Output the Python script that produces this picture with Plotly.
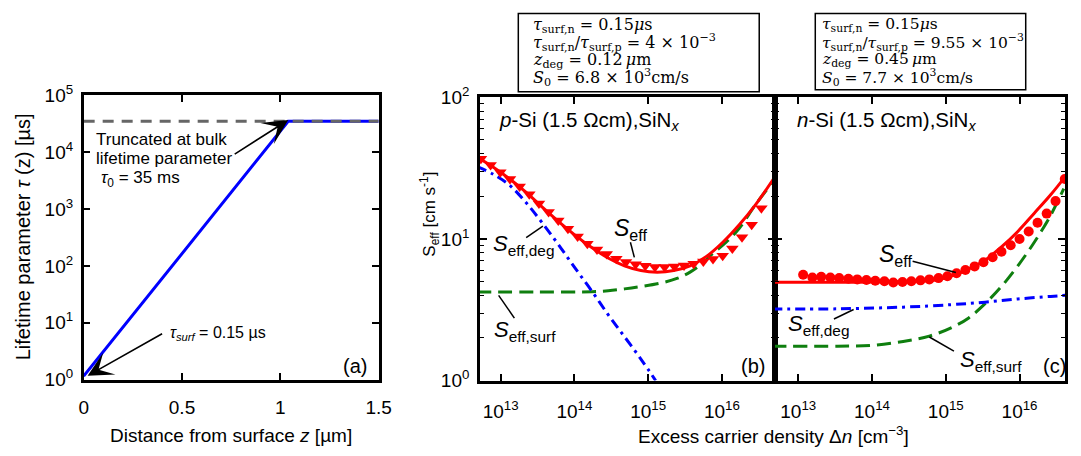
import plotly.graph_objects as go

W, H = 1081, 456

# ---------------- data: panel (a) ----------------
z_um = [0.0, 1.04, 1.5]
tau_us = [1.15, 35000, 35000]
trunc_z = [0.0, 1.5]
trunc_tau = [35000, 35000]

# ---------------- data: panel (b), p-Si ----------------
log_dn_b_meas = [12.733, 12.864, 12.996, 13.127, 13.258, 13.389, 13.52, 13.651, 13.782, 13.913,
                 14.044, 14.176, 14.307, 14.438, 14.569, 14.70, 14.831, 14.962, 15.093, 15.224,
                 15.356, 15.487, 15.618, 15.749, 15.88, 16.011, 16.142, 16.273, 16.404, 16.536]
S_b_meas = [36.9, 33.3, 29.6, 26.5, 23.5, 20.7, 17.8, 15.5, 13.5, 11.8,
            10.4, 9.25, 8.43, 7.82, 7.26, 6.87, 6.62, 6.46, 6.35, 6.35,
            6.40, 6.49, 6.67, 6.93, 7.23, 7.62, 8.57, 10.3, 12.6, 16.5]
log_dn_b_fit = [12.68, 12.902, 13.124, 13.347, 13.569, 13.791, 14.013, 14.236, 14.458, 14.68,
                14.902, 15.124, 15.347, 15.569, 15.791, 16.013, 16.236, 16.458, 16.72]
S_b_fit = [37.9, 32.1, 26.5, 21.3, 16.7, 13.2, 10.6, 8.69, 7.34, 6.46,
           5.98, 5.83, 5.98, 6.46, 7.53, 9.48, 12.6, 17.5, 27.5]
log_dn_b_surf = [12.68, 13.5, 14.236, 14.458, 14.68, 14.902, 15.169, 15.391, 15.569, 15.747,
                 15.88, 16.058, 16.236, 16.458, 16.72]
S_b_surf = [4.22, 4.22, 4.24, 4.31, 4.44, 4.61, 4.88, 5.26, 5.83, 6.80,
            7.93, 9.48, 11.9, 17.5, 26.5]
log_dn_b_deg = [12.68, 12.902, 13.124, 13.347, 13.569, 13.791, 14.013, 14.236, 14.458, 14.68,
                14.902, 15.102]
S_b_deg = [32.5, 28.6, 23.9, 18.0, 12.9, 9.02, 6.19, 4.29, 2.92, 2.04, 1.42, 1.0]

# ---------------- data: panel (c), n-Si ----------------
log_dn_c_meas = [13.066, 13.191, 13.311, 13.435, 13.555, 13.68, 13.80, 13.924, 14.044, 14.168,
                 14.288, 14.413, 14.533, 14.657, 14.777, 14.902, 15.022, 15.146, 15.266, 15.391,
                 15.511, 15.635, 15.755, 15.88, 16.0, 16.124, 16.244, 16.368, 16.488, 16.613]
S_c_meas = [5.59, 5.35, 5.40, 5.35, 5.29, 5.24, 5.18, 5.13, 5.07, 5.02,
            4.92, 4.97, 5.02, 5.10, 5.18, 5.29, 5.46, 5.72, 6.04, 6.40,
            6.84, 7.42, 8.13, 9.02, 9.98, 11.3, 13.0, 15.1, 18.5, 26.5]
log_dn_c_fit = [12.644, 13.533, 14.422, 14.866, 15.088, 15.311, 15.533, 15.755, 15.977, 16.2,
                16.422, 16.644]
S_c_fit = [4.94, 4.94, 5.0, 5.13, 5.48, 6.14, 7.08, 8.79, 11.3, 15.2, 20.5, 28.6]
log_dn_c_deg = [12.644, 13.533, 14.422, 15.088, 15.533, 15.977, 16.422, 16.657]
S_c_deg = [3.20, 3.21, 3.30, 3.44, 3.58, 3.77, 3.93, 4.01]
log_dn_c_surf = [12.644, 13.533, 13.977, 14.422, 14.777, 15.088, 15.311, 15.533, 15.755, 15.977,
                 16.2, 16.422, 16.6]
S_c_surf = [1.75, 1.75, 1.77, 1.89, 2.06, 2.38, 2.77, 3.49, 4.62, 6.46, 9.48, 14.7, 22.7]

# tick labels
a_xticks = [0, 0.5, 1, 1.5]
a_xtext = ["0", "0.5", "1", "1.5"]
a_yticks = [1, 10, 100, 1000, 10000, 100000]
a_ytext = ["10<sup>0</sup>", "10<sup>1</sup>", "10<sup>2</sup>", "10<sup>3</sup>", "10<sup>4</sup>", "10<sup>5</sup>"]
dn_ticks = [1e13, 1e14, 1e15, 1e16]
dn_text = ["10<sup>13</sup>", "10<sup>14</sup>", "10<sup>15</sup>", "10<sup>16</sup>"]
S_ticks = [1, 10, 100]
S_text = ["10<sup>0</sup>", "10<sup>1</sup>", "10<sup>2</sup>"]


def pw(v):
    return [10 ** e for e in v]


RED, BLUE, GREEN, GREY = "#ff0000", "#0000ff", "#0f7f0f", "#666666"
SANS = "Liberation Sans, Arial, sans-serif"
SERIF = "DejaVu Serif, serif"

fig = go.Figure()

# panel (a)
fig.add_trace(go.Scatter(x=z_um, y=tau_us, mode="lines", line=dict(color=BLUE, width=3),
                         xaxis="x", yaxis="y"))
fig.add_trace(go.Scatter(x=trunc_z, y=trunc_tau, mode="lines",
                         line=dict(color=GREY, width=3, dash="11px,8px"), xaxis="x", yaxis="y"))

# panel (b)
fig.add_trace(go.Scatter(x=pw(log_dn_b_surf), y=S_b_surf, mode="lines", line_shape="spline",
                         line=dict(color=GREEN, width=3, dash="14px,7px"), xaxis="x2", yaxis="y2"))
fig.add_trace(go.Scatter(x=pw(log_dn_b_deg), y=S_b_deg, mode="lines", line_shape="spline",
                         line=dict(color=BLUE, width=3, dash="10px,5px,3px,5px"), xaxis="x2", yaxis="y2"))
fig.add_trace(go.Scatter(x=pw(log_dn_b_fit), y=S_b_fit, mode="lines", line_shape="spline",
                         line=dict(color=RED, width=3), xaxis="x2", yaxis="y2"))
fig.add_trace(go.Scatter(x=pw(log_dn_b_meas), y=S_b_meas, mode="markers",
                         marker=dict(symbol="triangle-down", size=11, color=RED, line=dict(width=0)),
                         xaxis="x2", yaxis="y2"))

# panel (c)
fig.add_trace(go.Scatter(x=pw(log_dn_c_surf), y=S_c_surf, mode="lines", line_shape="spline",
                         line=dict(color=GREEN, width=3, dash="14px,7px"), xaxis="x3", yaxis="y3"))
fig.add_trace(go.Scatter(x=pw(log_dn_c_deg), y=S_c_deg, mode="lines", line_shape="spline",
                         line=dict(color=BLUE, width=3, dash="10px,5px,3px,5px"), xaxis="x3", yaxis="y3"))
fig.add_trace(go.Scatter(x=pw(log_dn_c_fit), y=S_c_fit, mode="lines", line_shape="spline",
                         line=dict(color=RED, width=3), xaxis="x3", yaxis="y3"))
fig.add_trace(go.Scatter(x=pw(log_dn_c_meas), y=S_c_meas, mode="markers",
                         marker=dict(symbol="circle", size=10, color=RED, line=dict(width=0)),
                         xaxis="x3", yaxis="y3"))


def px(x):
    return x / W


def py(y):
    return 1 - y / H


axis_common = dict(showline=True, linecolor="black", linewidth=2.5, mirror="ticks",
                   ticks="inside", ticklen=7, tickwidth=1.5, tickcolor="black",
                   showgrid=False, zeroline=False,
                   tickfont=dict(family=SANS, size=19, color="black"))
minor_y = dict(ticks="inside", ticklen=4, tickwidth=1.2, tickcolor="black", dtick="D1", showgrid=False)

fig.update_layout(
    width=W, height=H, margin=dict(l=0, r=0, t=0, b=0),
    paper_bgcolor="white", plot_bgcolor="white", showlegend=False,
    font=dict(family=SANS, color="black"),
    xaxis=dict(domain=[px(80), px(380)], range=[0, 1.5], anchor="y",
               tickmode="array", tickvals=a_xticks, ticktext=a_xtext, ticklabelstandoff=9, **axis_common),
    yaxis=dict(domain=[py(387), py(87)], type="log", range=[0, 5], anchor="x",
               tickmode="array", tickvals=a_yticks, ticktext=a_ytext, ticklabelstandoff=4, **axis_common),
    xaxis2=dict(domain=[px(483), px(783)], type="log", range=[12.72, 16.72], anchor="y2",
                tickmode="array", tickvals=dn_ticks, ticktext=dn_text, ticklabelstandoff=12, **axis_common),
    yaxis2=dict(domain=[py(388), py(89)], type="log", range=[0, 2], anchor="x2",
                tickmode="array", tickvals=S_ticks, ticktext=S_text, ticklabelstandoff=4,
                minor=minor_y, **axis_common),
    xaxis3=dict(domain=[px(783), px(1078)], type="log", range=[12.684, 16.617], anchor="y3",
                tickmode="array", tickvals=dn_ticks, ticktext=dn_text, ticklabelstandoff=12, **axis_common),
    yaxis3=dict(domain=[py(388), py(89)], type="log", range=[0, 2], anchor="x3",
                tickmode="array", tickvals=S_ticks, ticktext=S_text, showticklabels=False,
                minor=minor_y, **axis_common),
)

annotations = []
shapes = []


def text(x, y, s, size=17, xanchor="left", family=SANS, angle=0):
    annotations.append(dict(x=px(x), y=py(y), xref="paper", yref="paper", text=s, showarrow=False,
                            xanchor=xanchor, yanchor="middle", textangle=angle,
                            font=dict(family=family, size=size, color="black")))


def seg(x0, y0, x1, y1, w=1.5):
    shapes.append(dict(type="line", xref="paper", yref="paper", x0=px(x0), y0=py(y0), x1=px(x1), y1=py(y1),
                       line=dict(color="black", width=w)))


def arrow(hx, hy, tx, ty):
    annotations.append(dict(x=px(hx), y=py(hy), xref="paper", yref="paper", text="", showarrow=True,
                            ax=tx - hx, ay=ty - hy, arrowhead=3, arrowsize=2.6, arrowwidth=1.6,
                            arrowcolor="black", standoff=0))


# axis titles
text(18, 236, "Lifetime parameter <i>τ</i> (z) [µs]", 20, "center", angle=-90)
text(230, 446, "Distance from surface <i>z</i> [µm]", 19, "center")
text(432, 212, "S<sub>eff</sub> [cm s<sup>-1</sup>]", 17, "center", angle=-90)
text(782, 445, "Excess carrier density Δ<i>n</i> [cm<sup>−3</sup>]", 19, "center")

# panel (a) notes
text(91, 134, "Truncated at bulk", 17)
text(90, 154, "lifetime parameter", 17)
text(96, 175, "<i>τ</i><sub>0</sub> = 35 ms", 17)
arrow(288, 113, 233, 148)
text(166, 338, "<i>τ<sub>surf</sub></i> = 0.15 µs", 16)
arrow(84, 383, 160, 340)
text(356, 373, "(a)", 20, "center")

# panel (b) notes
text(500, 114, "<i>p</i>-Si (1.5 Ωcm),SiN<sub><i>x</i></sub>", 20.5)
text(617, 228, "<i>S</i><sub>eff</sub>", 23)
seg(636, 242, 640, 258)
text(494, 245, "<i>S</i><sub>eff,deg</sub>", 22)
seg(530, 237, 547, 225)
text(495, 336, "<i>S</i><sub>eff,surf</sub>", 22)
seg(518, 322, 502, 298)
text(761, 373, "(b)", 20, "center")

# panel (c) notes
text(803, 114, "<i>n</i>-Si (1.5 Ωcm),SiN<sub><i>x</i></sub>", 20.5)
text(887, 256, "<i>S</i><sub>eff</sub>", 23)
seg(923, 262, 967, 274)
text(794, 329, "<i>S</i><sub>eff,deg</sub>", 22)
seg(843, 323, 863, 313)
text(969, 367, "<i>S</i><sub>eff,surf</sub>", 22)
seg(965, 357, 940, 342)
text(1067, 373, "(c)", 20, "center")

# parameter boxes
shapes.append(dict(type="rect", xref="paper", yref="paper", x0=px(522), x1=px(767), y0=py(83), y1=py(0.5),
                   line=dict(color="black", width=1.5), fillcolor="white"))
shapes.append(dict(type="rect", xref="paper", yref="paper", x0=px(824), x1=px(1038), y0=py(81), y1=py(0.5),
                   line=dict(color="black", width=1.5), fillcolor="white"))
box_b = ["<i>τ</i><sub>surf,n</sub> = 0.15<i>μ</i>s",
         "<i>τ</i><sub>surf,n</sub>/<i>τ</i><sub>surf,p</sub> = 4 × 10<sup>−3</sup>",
         "<i>z</i><sub>deg</sub> = 0.12\u2009<i>μ</i>m",
         "<i>S</i><sub>0</sub> = 6.8 × 10<sup>3</sup>cm/s"]
box_c = ["<i>τ</i><sub>surf,n</sub> = 0.15<i>μ</i>s",
         "<i>τ</i><sub>surf,n</sub>/<i>τ</i><sub>surf,p</sub> = 9.55 × 10<sup>−3</sup>",
         "<i>z</i><sub>deg</sub> = 0.45\u2009<i>μ</i>m",
         "<i>S</i><sub>0</sub> = 7.7 × 10<sup>3</sup>cm/s"]
for i, yy in enumerate([13, 31, 50, 68.5]):
    text(535, yy, box_b[i], 16, family=SERIF)
    text(829, yy, box_c[i], 15.5, family=SERIF)

fig.update_layout(annotations=annotations, shapes=shapes)
fig.write_html("out.html")
